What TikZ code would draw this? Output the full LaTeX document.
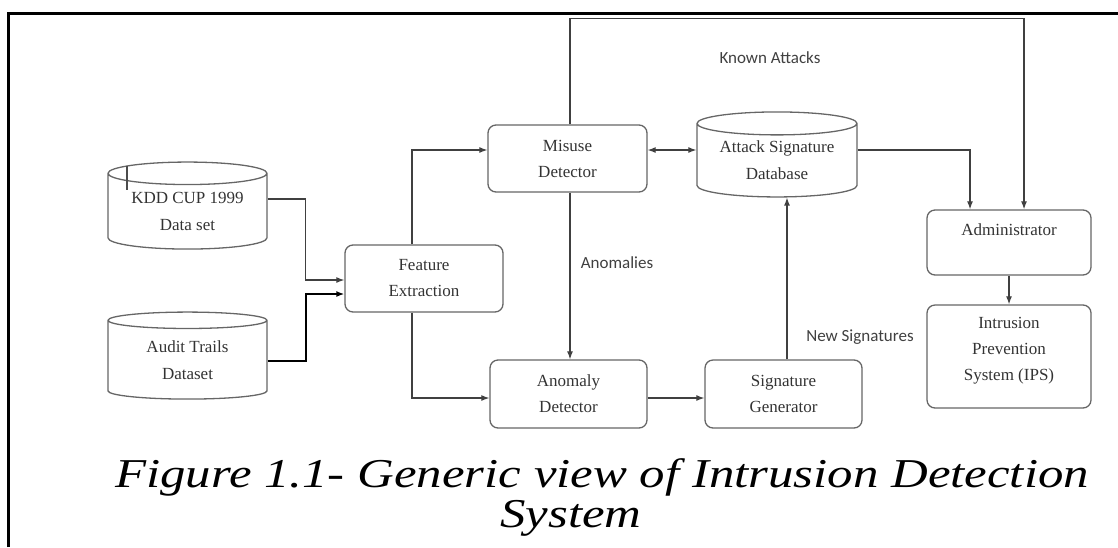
\documentclass[tikz,border=0pt]{standalone}
\usepackage{fontspec}
\usepackage{graphicx}
\setmainfont{Liberation Serif}
\newfontfamily\lblfont{Carlito}
\usetikzlibrary{shapes.geometric,arrows.meta}

\begin{document}
\begin{tikzpicture}[x=1pt,y=-1pt,
    box/.style={draw=black!60, line width=1.3pt, rounded corners=8pt, align=center,
        inner sep=0pt, text=black!80, font=\fontsize{17}{26}\selectfont},
    db/.style={draw=black!60, line width=1.3pt, cylinder, shape border rotate=90,
        aspect=0.2, minimum width=159pt, minimum height=87pt, align=center,
        inner sep=0pt, text=black!80, font=\fontsize{17}{27}\selectfont},
    lbl/.style={font=\lblfont\fontsize{17}{20}\selectfont, text=black!75},
    link/.style={draw=black!75, line width=1.2pt, -{Latex[length=8pt,width=6pt]}},
    dlink/.style={link, {Latex[length=8pt,width=6pt]}-{Latex[length=8pt,width=6pt]}},
    caption/.style={font=\itshape\fontsize{41}{46}\selectfont, inner sep=0pt}]

    \useasboundingbox (0,0) rectangle (1118,547);

    % frame
    \draw [line width=3pt] (8,547) -- (8,13) -- (1118,13);

    % data sources
    \node [db] (kdd) at (187.5,211.5) {KDD CUP 1999\\Data set};
    \node [db] (audit) at (187.5,360) {Audit Trails\\Dataset};
    \draw [line width=2pt, black!70] (127,166) -- (127,190);

    % detection
    \node [box, minimum width=158pt, minimum height=67pt] (feat) at (424,278.5) {Feature\\Extraction};
    \node [box, minimum width=159pt, minimum height=67pt] (misuse) at (567.5,158.5) {Misuse\\Detector};
    \node [db, minimum width=160pt, minimum height=85pt] (asd) at (777,160.5) {Attack Signature\\Database};
    \node [box, minimum width=157pt, minimum height=68pt] (anom) at (568.5,394) {Anomaly\\Detector};
    \node [box, minimum width=157pt, minimum height=68pt] (siggen) at (783.5,394) {Signature\\Generator};
    \node [box, minimum width=164pt, minimum height=65pt] (admin) at (1009,242.5) {Administrator\\\mbox{}};
    \node [box, minimum width=164pt, minimum height=103pt] (ips) at (1009,356.5) {Intrusion\\Prevention\\System (IPS)\\[-10pt]\mbox{}};

    \draw [link] ([yshift=12.5pt]kdd.east) -- ++(38,0) |- ([yshift=-1.5pt]feat.west);
    \draw [link, draw=black, line width=2pt] ([yshift=-1pt]audit.east) -- ++(38,0) |- ([yshift=-15.5pt]feat.west);
    \draw [link] ([xshift=-12pt]feat.north) |- ([yshift=8.5pt]misuse.west);
    \draw [link] ([xshift=-12pt]feat.south) |- ([yshift=-4pt]anom.west);
    \draw [dlink] ([yshift=8.5pt]misuse.east) -- ([yshift=8.5pt]misuse.east -| asd.west);
    \draw [link] ([xshift=2.5pt]misuse.north) -- ++(0,-106) -| ([xshift=15pt]admin.north);
    \draw [link] ([yshift=10.5pt]asd.east) -| ([xshift=-39pt]admin.north);
    \draw [link] ([xshift=2.5pt]misuse.south) -- ([xshift=2.5pt]misuse.south |- anom.north);
    \draw [link] ([yshift=-4pt]anom.east) -- ([yshift=-4pt]anom.east -| siggen.west);
    \draw [link] ([xshift=3.5pt]siggen.north) -- ([xshift=3.5pt]siggen.north |- asd.south);
    \draw [link] (admin.south) -- (ips.north);

    \node [lbl] (known) at (770,58) {Known Attacks};
    \node [lbl] (anomlbl) at (617,263) {Anomalies};
    \node [lbl] (newsig) at (860,337) {New Signatures};

    % caption
    \node [caption, anchor=base west] (cap1) at (115,487) {\scalebox{1.24}[1]{Figure 1.1- Generic view of Intrusion Detection}};
    \node [caption, anchor=base] (cap2) at (571,527) {\scalebox{1.24}[1]{System}};

\end{tikzpicture}
\end{document}
